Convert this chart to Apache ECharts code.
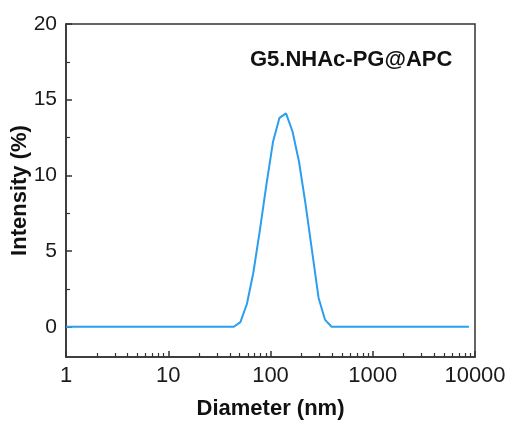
<!DOCTYPE html>
<html>
<head>
<meta charset="utf-8">
<script src="https://cdn.jsdelivr.net/npm/echarts@6/dist/echarts.min.js"></script>
<style>html,body{margin:0;padding:0;background:#fff;}#c{width:507px;height:422px;}</style>
</head>
<body>
<div id="c"></div>
<script>
// Data
var diameters = [1, 43.82, 50.75, 58.77, 68.06, 78.82, 91.28, 105.7, 122.4, 141.8, 164.2, 190.1, 220.2, 255.0, 295.3, 342.0, 396.1, 8721];
var intensities = [0, 0, 0.3, 1.5, 3.6, 6.4, 9.4, 12.2, 13.8, 14.1, 12.9, 10.9, 8.1, 5.0, 1.9, 0.45, 0, 0];
var xMajorTicks = [1, 10, 100, 1000, 10000];
var xMinorTicks = [2,3,4,5,6,7,8,9,20,30,40,50,60,70,80,90,200,300,400,500,600,700,800,900,2000,3000,4000,5000,6000,7000,8000,9000];
var yMajorTicks = [0, 5, 10, 15, 20];
var yMinorTicks = [2.5, 7.5, 12.5, 17.5];
var sampleName = 'G5.NHAc-PG@APC';
var xTitle = 'Diameter (nm)';
var yTitle = 'Intensity (%)';

var FONT = '"Liberation Sans", Arial, Helvetica, sans-serif';
var AX = '#333333';
var chart = echarts.init(document.getElementById('c'), null, {renderer: 'canvas'});
var pts = diameters.map(function (d, i) { return [d, intensities[i]]; });
chart.setOption({
  animation: false,
  backgroundColor: '#ffffff',
  title: {
    text: sampleName,
    left: 245, top: 44,
    textStyle: {fontFamily: FONT, fontSize: 22, fontWeight: 'bold', color: '#111'}
  },
  grid: {left: 66, right: 32, top: 24, bottom: 65, containLabel: false, outerBoundsMode: 'none',
    show: true, borderColor: AX, borderWidth: 1.5, backgroundColor: 'transparent'},
  xAxis: [{
    type: 'log', logBase: 10, min: 1, max: 10000, position: 'bottom',
    axisLine: {show: true, onZero: false, lineStyle: {color: AX, width: 1.5}},
    axisTick: {show: true, inside: true, length: 6, customValues: xMajorTicks, lineStyle: {color: AX, width: 1.5}},
    axisLabel: {customValues: xMajorTicks, fontFamily: FONT, fontSize: 22, color: '#1a1a1a', margin: 8,
      formatter: function (v) { return String(Math.round(v)); }},
    splitLine: {show: false}, minorTick: {show: false},
    name: xTitle, nameLocation: 'middle', nameGap: 41, nameMoveOverlap: false,
    nameTextStyle: {fontFamily: FONT, fontSize: 22, fontWeight: 'bold', color: '#111'}
  }, {
    type: 'log', logBase: 10, min: 1, max: 10000, position: 'bottom',
    axisLine: {show: false, onZero: false},
    axisTick: {show: true, inside: true, length: 4, customValues: xMinorTicks, lineStyle: {color: AX, width: 1.2}},
    axisLabel: {show: false}, splitLine: {show: false}
  }],
  yAxis: [{
    type: 'value', min: -2, max: 20, position: 'left',
    axisLine: {show: true, onZero: false, lineStyle: {color: AX, width: 1.5}},
    axisTick: {show: true, inside: true, length: 6, customValues: yMajorTicks, lineStyle: {color: AX, width: 1.5}},
    axisLabel: {customValues: yMajorTicks, fontFamily: FONT, fontSize: 21, color: '#1a1a1a', margin: 9},
    splitLine: {show: false},
    name: yTitle, nameLocation: 'middle', nameGap: 35, nameRotate: 90, nameMoveOverlap: false,
    nameTextStyle: {fontFamily: FONT, fontSize: 22, fontWeight: 'bold', color: '#111'}
  }, {
    type: 'value', min: -2, max: 20, position: 'left',
    axisLine: {show: false, onZero: false},
    axisTick: {show: true, inside: true, length: 4, customValues: yMinorTicks, lineStyle: {color: AX, width: 1.2}},
    axisLabel: {show: false}, splitLine: {show: false}
  }],
  series: [{
    type: 'line', xAxisIndex: 0, yAxisIndex: 0, data: pts,
    showSymbol: false, symbol: 'none', smooth: false, clip: true,
    lineStyle: {color: '#2b9ef0', width: 2}
  }]
});
</script>
</body>
</html>
